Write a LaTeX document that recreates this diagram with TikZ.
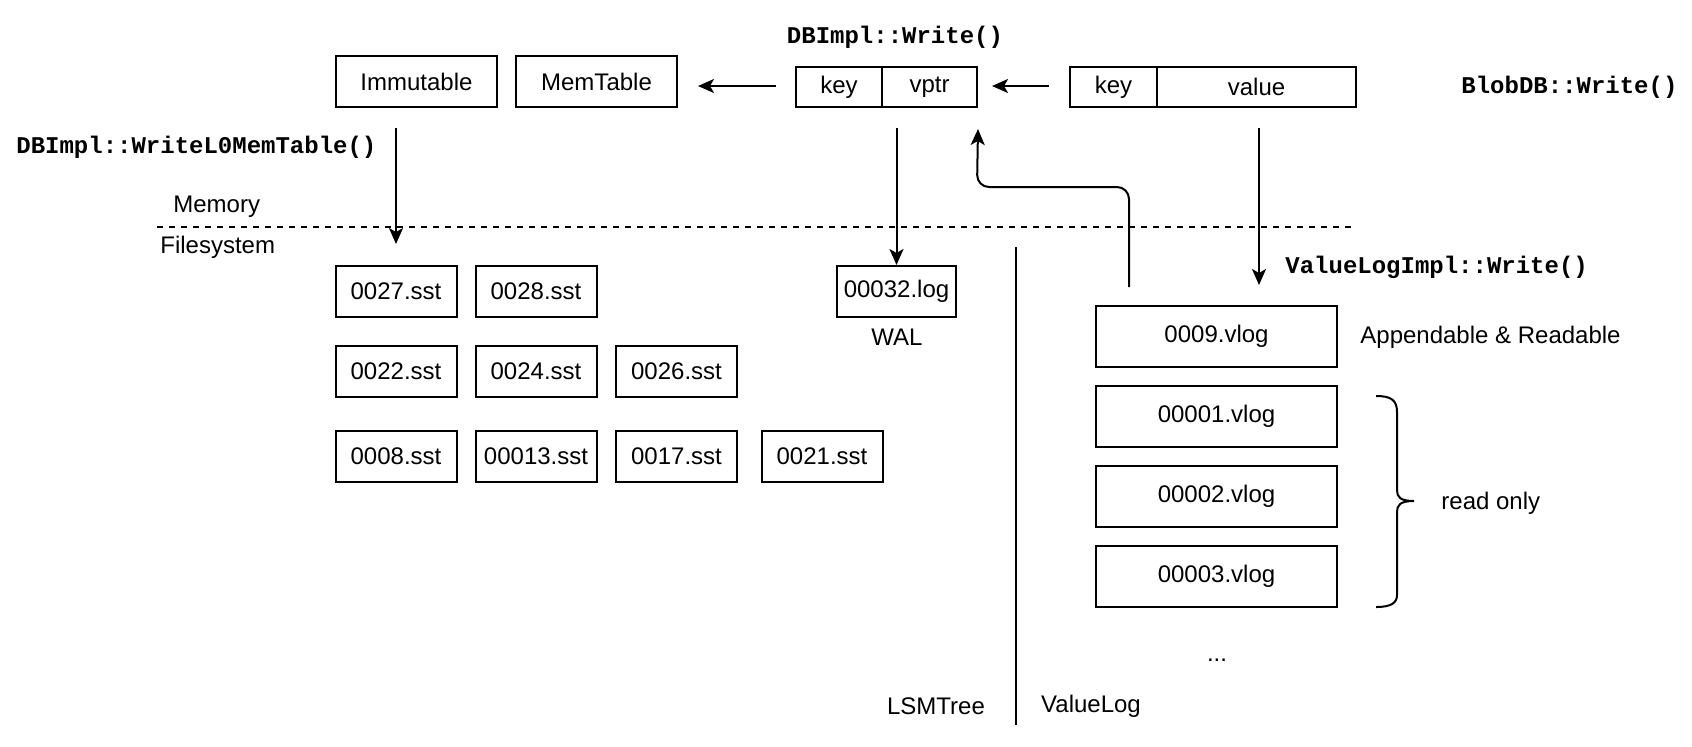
\documentclass[tikz,border=0pt]{standalone}
\usepackage{fontspec}
\setmainfont{Liberation Sans}
\newfontfamily\codefont{Liberation Mono}
\usetikzlibrary{arrows.meta,calc}
\begin{document}
\begin{tikzpicture}[x=0.5pt,y=-0.5pt,
  lbl/.style={font=\fontsize{12}{14}\selectfont, inner sep=0pt},
  code/.style={font=\codefont\bfseries\fontsize{12}{14}\selectfont, inner sep=0pt},
  box/.style={draw, line width=1pt, inner sep=0pt, font=\fontsize{12}{14}\selectfont},
  sst/.style={box, minimum width=60.5pt, minimum height=25.5pt},
  vlog/.style={box, minimum width=120.5pt, minimum height=30.5pt},
  arr/.style={-{Stealth[length=8pt,width=7pt,inset=2pt]}, line width=1pt}]
\useasboundingbox (0,0) rectangle (1692,746);

% top row
\node[box, minimum width=80.5pt, minimum height=25.5pt] (imm) at (416.5,81.5) {Immutable};
\node[box, minimum width=80.5pt, minimum height=25.5pt] (mem) at (596.5,81.5) {MemTable};
\node[box, minimum width=43pt, minimum height=20pt] (key) at (839,87) {key};
\node[box, minimum width=47.5pt, minimum height=20pt] (vptr) at (929.5,87) {vptr};
\node[box, minimum width=43.5pt, minimum height=20pt] (key2) at (1113.5,87) {key};
\node[box, minimum width=99.5pt, minimum height=20pt] (value) at (1256.5,87) {value};

% sst files
\node[sst] (sst27) at (396,291.5) {0027.sst};
\node[sst] (sst28) at (536,291.5) {0028.sst};
\node[sst] (sst22) at (396,371.5) {0022.sst};
\node[sst] (sst24) at (536,371.5) {0024.sst};
\node[sst] (sst26) at (676.5,371.5) {0026.sst};
\node[sst] (sst08) at (396,456.5) {0008.sst};
\node[sst] (sst13) at (536,456.5) {00013.sst};
\node[sst] (sst17) at (676.5,456.5) {0017.sst};
\node[sst] (sst21) at (822,456.5) {0021.sst};
\node[box, minimum width=59.5pt, minimum height=25.5pt] (log) at (896.5,291.5) {00032.log};

% vlog files
\node[vlog] (vlog9) at (1216.5,336.5) {0009.vlog};
\node[vlog] (vlog1) at (1216.5,416.5) {00001.vlog};
\node[vlog] (vlog2) at (1216.5,496.5) {00002.vlog};
\node[vlog] (vlog3) at (1216.5,576.5) {00003.vlog};

% labels
\node[code, anchor=west] (wl0) at (16,147) {DBImpl::WriteL0MemTable()};
\node[code] (dbw) at (895,37) {DBImpl::Write()};
\node[code, anchor=west] (blob) at (1461,87) {BlobDB::Write()};
\node[code, anchor=west] (vlw) at (1285,267) {ValueLogImpl::Write()};
\node[lbl, anchor=west] (memlbl) at (173,207) {Memory};
\node[lbl, anchor=west] (fslbl) at (160,247) {Filesystem};
\node[lbl] (wal) at (897,337) {WAL};
\node[lbl, anchor=west] (app) at (1360,337) {Appendable \& Readable};
\node[lbl, anchor=west] (ro) at (1441,503) {read only};
\node[lbl] (dots) at (1217,660) {...};
\node[lbl] (lsm) at (936,706) {LSMTree};
\node[lbl] (vl) at (1091,706) {ValueLog};

% separators
\draw[dashed, line width=0.8pt] (157,227) -- (1352,227);
\draw[line width=1pt] (1016,247) -- (1016,725);

% arrows
\draw[arr] ($(key.west)+(-19,-1)$) -- ($(mem.east)+(20,4.5)$);
\draw[arr] ($(key2.west)+(-20,-1)$) -- ($(vptr.east)+(14,-1)$);
\draw[arr] ($(sst27.north |- imm.south)+(0,20)$) -- ($(sst27.north)+(0,-21)$);
\draw[arr] ($(log.north |- vptr.south)+(0,20)$) -- (log.north);
\draw[arr] ($(value.south)+(2.5,20)$) -- ($(value.south |- vlog9.north)+(2.5,-20)$);
\coordinate (upstart) at (1129,287);
\draw[arr, rounded corners=6pt] (upstart) -- (1129,187) -- (977,187) -- ($(vptr.south east)+(0,21)$);

% brace
\draw[line width=1pt] (1376,396) .. controls (1391,396) and (1397,400) .. (1397,412)
  -- (1397,490) .. controls (1397,497) and (1400,501) .. (1414,501)
  .. controls (1400,501) and (1397,505) .. (1397,512)
  -- (1397,595) .. controls (1397,603) and (1391,607) .. (1376,607);
\end{tikzpicture}
\end{document}
